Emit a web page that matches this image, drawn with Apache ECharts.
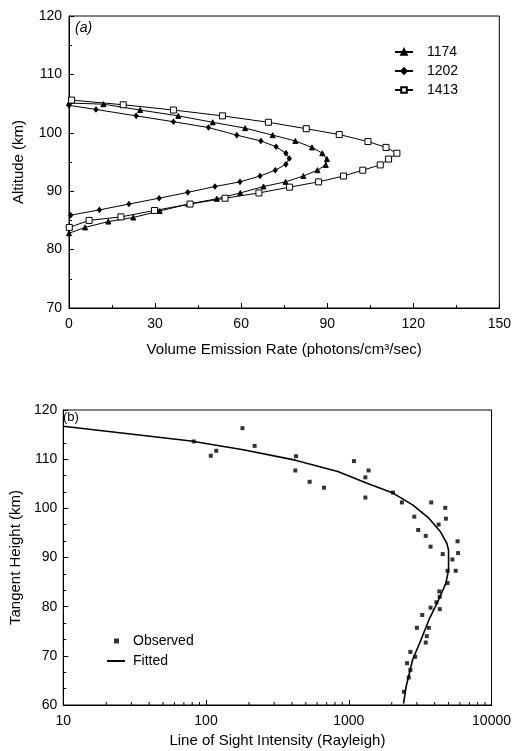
<!DOCTYPE html>
<html>
<head>
<meta charset="utf-8">
<script src="https://cdn.jsdelivr.net/npm/echarts@6/dist/echarts.min.js"></script>
<style>
    html, body {margin: 0; padding: 0; background: #fff;}
    #chart {width: 514px; height: 751px;}
</style>
</head>
<body>
<div id="chart"></div>
<script>
// panel (a): volume emission rate profiles
var rate1174 = [0, 12, 24.8, 38.1, 50.1, 61.4, 71, 78.9, 84.7, 88.3, 89.9, 89.5, 86.6, 81.7, 75.5, 67.8, 59.7, 51.5, 41.6, 31.6, 22.4, 13.7, 5.6, 0];
var alt1174 = [105.1, 104.9, 103.9, 102.9, 101.8, 100.8, 99.6, 98.6, 97.5, 96.5, 95.5, 94.5, 93.6, 92.6, 91.6, 90.8, 89.7, 88.7, 87.8, 86.6, 85.5, 84.8, 83.8, 82.8];
var rate1202 = [0, 9.4, 23.4, 36.4, 48.6, 58.5, 66.9, 72.2, 75.6, 76.8, 75.6, 71.9, 66.6, 59.6, 50.9, 41.4, 31.4, 20.9, 10.6, 0.6];
var alt1202 = [104.7, 104.0, 102.9, 101.9, 100.9, 99.6, 98.6, 97.6, 96.5, 95.6, 94.6, 93.6, 92.6, 91.6, 90.8, 89.8, 88.8, 87.8, 86.8, 85.9];
var rate1413 = [0.9, 18.9, 36.4, 53.5, 69.5, 82.7, 94.2, 104.2, 110.5, 114.3, 111.4, 108.5, 102.4, 95.7, 87, 76.9, 66.2, 54.4, 42.2, 29.8, 18.1, 7, 0.1];
var alt1413 = [105.6, 104.8, 103.9, 102.9, 101.8, 100.7, 99.7, 98.5, 97.5, 96.5, 95.5, 94.5, 93.6, 92.6, 91.6, 90.7, 89.7, 88.8, 87.8, 86.7, 85.6, 85.0, 83.8];

// panel (b): line of sight intensity
var obsIntensity = [82, 108, 118, 180, 219, 427, 422, 532, 671, 1087, 1376, 1307, 1307, 2040, 2355, 2877, 3065, 3780, 4740, 4790, 4260, 3460, 3740, 4550, 5780, 5830, 5320, 5610, 4920, 4920, 4310, 4330, 4110, 4340, 3740, 3270, 3000, 3640, 3520, 3460, 2700, 2920, 2560, 2700, 2630, 2430];
var obsHeight = [113.6, 110.7, 111.7, 116.3, 112.7, 110.6, 107.7, 105.4, 104.2, 109.6, 107.7, 106.3, 102.2, 103.2, 101.2, 98.3, 95.6, 101.2, 100.1, 97.9, 96.7, 94.4, 92.2, 90.7, 93.3, 90.9, 89.6, 87.3, 87.3, 84.8, 83.1, 82.0, 80.9, 79.5, 79.8, 78.3, 75.7, 75.7, 74.0, 72.7, 70.8, 69.8, 68.5, 67.1, 65.6, 62.7];
var fitIntensity = [10, 78.5, 182, 422, 837, 1343, 2040, 2800, 3640, 4370, 4860, 5000, 5000, 4790, 4260, 3640, 3200, 2800, 2520, 2420];
var fitHeight = [116.7, 113.7, 111.9, 109.8, 107.5, 105.1, 103.1, 100.7, 98.0, 95.3, 92.9, 91.5, 87.5, 84.8, 81.4, 77.3, 73.2, 69.2, 63.7, 60.3];

// minor ticks of the log axis
var logMinorTicks = [20, 30, 40, 50, 60, 70, 80, 90, 200, 300, 400, 500, 600, 700, 800, 900, 2000, 3000, 4000, 5000, 6000, 7000, 8000, 9000];

var FONT = '"Liberation Sans", Arial, sans-serif';

function pairs(xs, ys) {
    return xs.map(function (x, i) { return [x, ys[i]]; });
}

var chart = echarts.init(document.getElementById('chart'));

function tickAxis(extra) {
    var base = {
        axisLine: {show: true, lineStyle: {color: '#000', width: 1}},
        axisTick: {show: true, inside: true, length: 5, lineStyle: {color: '#000'}},
        axisLabel: {color: '#000', fontSize: 14, fontFamily: FONT},
        splitLine: {show: false},
        nameLocation: 'middle',
        nameTextStyle: {color: '#000', fontSize: 15, fontFamily: FONT}
    };
    for (var k in extra) base[k] = extra[k];
    return base;
}

var lineBase = {
    type: 'line',
    xAxisIndex: 0,
    yAxisIndex: 0,
    clip: false,
    color: '#000',
    lineStyle: {color: '#000', width: 1},
    itemStyle: {color: '#000', borderColor: '#000', borderWidth: 1},
    emphasis: {disabled: true},
    animation: false
};

function lineSeries(name, data, symbol, size, fill) {
    var s = JSON.parse(JSON.stringify(lineBase));
    s.name = name;
    s.data = data;
    s.symbol = symbol;
    s.symbolSize = size;
    s.itemStyle.color = fill;
    return s;
}

var option = {
    backgroundColor: '#fff',
    animation: false,
    grid: [
        {left: 69, top: 16, width: 431, height: 292, show: true, borderColor: '#000', borderWidth: 1},
        {left: 56, top: 410, width: 438, height: 295, show: true, borderColor: '#000', borderWidth: 1}
    ],
    legend: [
        {
            data: ['1174', '1202', '1413'],
            orient: 'vertical',
            left: 389, top: 40,
            itemWidth: 18, itemHeight: 7, itemGap: 5,
            textStyle: {color: '#000', fontSize: 14, fontFamily: FONT, padding: [0, 0, 0, 9]},
            selectedMode: false
        },
        {
            data: ['Observed'],
            left: 109, top: 629,
            itemWidth: 5, itemHeight: 5,
            textStyle: {color: '#000', fontSize: 14, fontFamily: FONT, padding: [0, 0, 0, 9]},
            selectedMode: false
        },
        {
            data: [{name: 'Fitted', icon: 'rect'}],
            left: 102, top: 649,
            itemWidth: 18, itemHeight: 2,
            textStyle: {color: '#000', fontSize: 14, fontFamily: FONT, padding: [0, 0, 0, 3]},
            selectedMode: false
        }
    ],
    xAxis: [
        tickAxis({
            gridIndex: 0, type: 'value', min: 0, max: 150, interval: 30,
            minorTick: {show: true, splitNumber: 2, length: 3, lineStyle: {color: '#000'}},
            axisLabel: {color: '#000', fontSize: 14, fontFamily: FONT, margin: 9},
            name: 'Volume Emission Rate (photons/cm³/sec)', nameGap: 34
        }),
        tickAxis({
            gridIndex: 1, type: 'log', logBase: 10, min: 10, max: 10000,
            axisLabel: {color: '#000', fontSize: 14, fontFamily: FONT, margin: 9,
                formatter: function (v) { return String(Math.round(v)); }},
            name: 'Line of Sight Intensity (Rayleigh)', nameGap: 28
        })
    ],
    yAxis: [
        tickAxis({
            gridIndex: 0, type: 'value', min: 70, max: 120, interval: 10,
            minorTick: {show: true, splitNumber: 2, length: 3, lineStyle: {color: '#000'}},
            axisLabel: {color: '#000', fontSize: 14, fontFamily: FONT, margin: 7},
            name: 'Altitude (km)', nameGap: 43
        }),
        tickAxis({
            gridIndex: 1, type: 'value', min: 60, max: 120, interval: 10,
            minorTick: {show: true, splitNumber: 3, length: 3, lineStyle: {color: '#000'}},
            axisLabel: {color: '#000', fontSize: 14, fontFamily: FONT, margin: 6},
            name: 'Tangent Height (km)', nameGap: 31
        })
    ],
    graphic: [
        {type: 'text', left: 75, top: 21, style: {text: '(a)', font: 'italic 14px ' + FONT, fill: '#000'}},
        {type: 'text', left: 63, top: 411, style: {text: '(b)', font: '13px ' + FONT, fill: '#000'}}
    ],
    series: [
        lineSeries('1174', pairs(rate1174, alt1174), 'triangle', 5, '#000'),
        lineSeries('1202', pairs(rate1202, alt1202), 'diamond', [4, 5], '#000'),
        lineSeries('1413', pairs(rate1413, alt1413), 'rect', 6, '#fff'),
        {
            name: 'Observed',
            type: 'scatter',
            xAxisIndex: 1, yAxisIndex: 1,
            symbol: 'rect', symbolSize: 4,
            itemStyle: {color: '#000'},
            data: pairs(obsIntensity, obsHeight),
            emphasis: {disabled: true}
        },
        {
            name: 'Fitted',
            type: 'line',
            xAxisIndex: 1, yAxisIndex: 1,
            showSymbol: false, symbol: 'none',
            color: '#000',
            lineStyle: {color: '#000', width: 1.6},
            data: pairs(fitIntensity, fitHeight),
            emphasis: {disabled: true}
        },
        {
            name: 'logMinor',
            type: 'custom',
            xAxisIndex: 1, yAxisIndex: 1,
            silent: true,
            data: logMinorTicks.map(function (v) { return [v, 60]; }),
            renderItem: function (params, api) {
                var p = api.coord([api.value(0), 60]);
                return {
                    type: 'line',
                    shape: {x1: p[0], y1: p[1], x2: p[0], y2: p[1] - 3},
                    style: {stroke: '#000', lineWidth: 1}
                };
            }
        }
    ]
};

chart.setOption(option);
</script>
</body>
</html>
